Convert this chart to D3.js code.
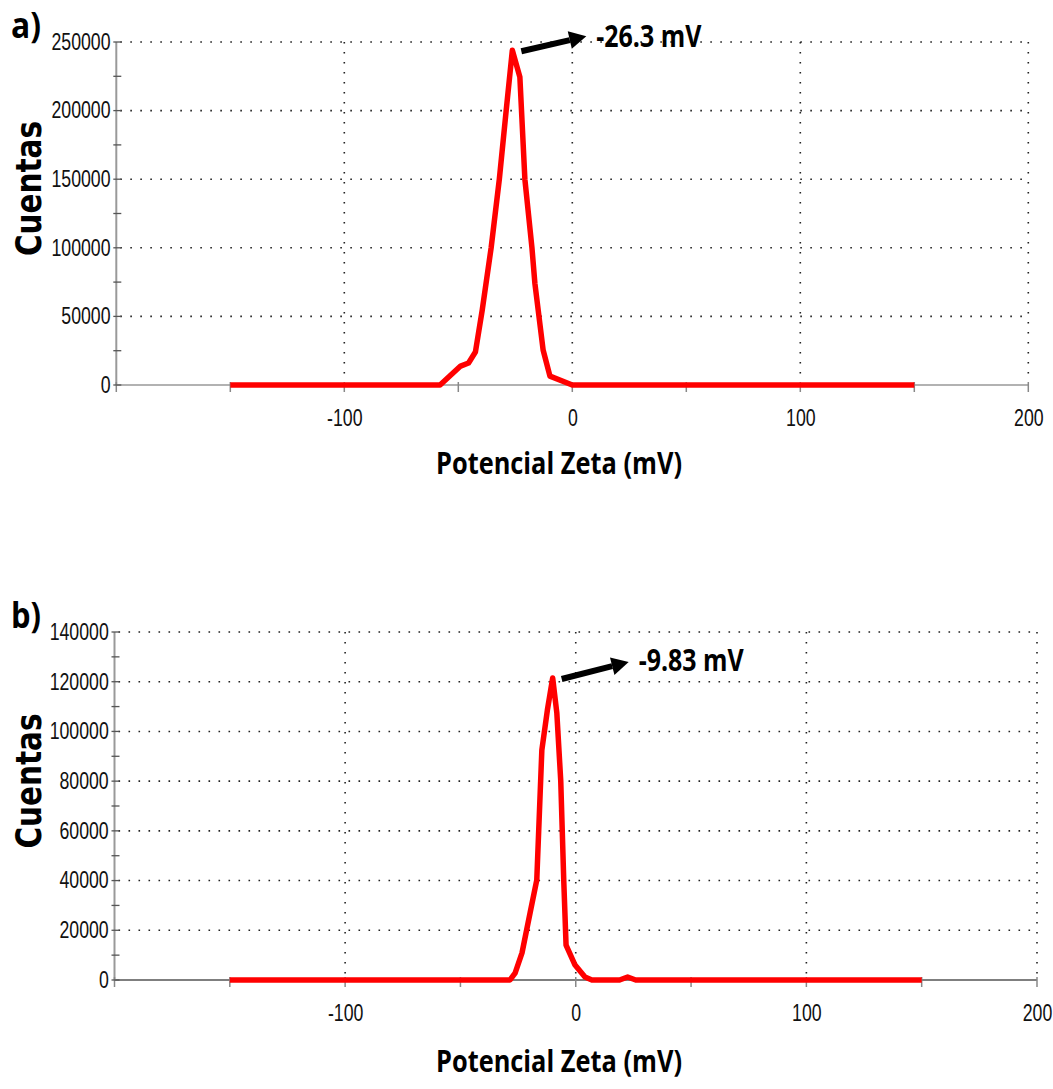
<!DOCTYPE html>
<html>
<head>
<meta charset="utf-8">
<script src="https://cdn.jsdelivr.net/npm/d3@7"></script>
<style>
  body { margin: 0; background: #fff; }
  svg { display: block; }
</style>
</head>
<body>
<div id="chart"></div>
<script>
// zeta potential distributions
const zetaA   = [-150, -58, -49, -45.5, -42.5, -39.5, -35.6, -32, -29, -26.3, -23, -20.8, -17.7, -16.4, -12.8, -9.8, 0, 150]
const countsA = [0, 0, 13800, 16000, 24000, 54700, 100000, 150000, 200000, 244000, 224500, 150000, 100000, 74000, 25500, 6500, 0, 0]

const zetaB   = [-150, -28.5, -26.3, -23.3, -19.8, -16.9, -14.7, -12.3, -10, -8.2, -6.5, -5.2, -4.2, -0.3, 4, 7, 19, 22.5, 26, 150]
const countsB = [0, 0, 2800, 10900, 27000, 40200, 92500, 108600, 121500, 107400, 80000, 40000, 14000, 6000, 1200, 0, 0, 1200, 0, 0]

const xMajor = [-200, -100, 0, 100, 200]
const xMinor = [-150, -50, 50, 150]
const yMajorA = [0, 50000, 100000, 150000, 200000, 250000]
const yMinorA = [25000, 75000, 125000, 175000, 225000]
const yMajorB = [0, 20000, 40000, 60000, 80000, 100000, 120000, 140000]
const yMinorB = [10000, 30000, 50000, 70000, 90000, 110000, 130000]

const peakA = {x: -26.3, y: 244000, label: "-26.3 mV"}
const peakB = {x: -10, y: 121500, label: "-9.83 mV"}

const svg = d3.select("#chart")
  .append("svg")
    .attr("width", 1053)
    .attr("height", 1089)

const tickFont = "'Liberation Sans', Arial, sans-serif"
const boldFont = "'Open Sans', 'Noto Sans', sans-serif"

// one panel of the figure
function drawPanel(p) {
  const x = d3.scaleLinear().domain([-200, 200]).range([p.left, p.right])
  const y = d3.scaleLinear().domain([0, p.yMax]).range([p.bottom, p.top])
  const g = svg.append("g")

  // dotted grid
  g.selectAll(".hgrid")
    .data(p.yMajor.filter(d => d > 0))
    .enter().append("line")
      .attr("x1", p.left + 4).attr("x2", p.right)
      .attr("y1", d => y(d)).attr("y2", d => y(d))
      .attr("stroke", "#222").attr("stroke-width", 1.6)
      .attr("stroke-dasharray", "1.6,8.4")
  g.selectAll(".vgrid")
    .data(xMajor.filter(d => d > -200))
    .enter().append("line")
      .attr("x1", d => x(d)).attr("x2", d => x(d))
      .attr("y1", y(p.yMax)).attr("y2", y(0) - 3)
      .attr("stroke", "#222").attr("stroke-width", 1.6)
      .attr("stroke-dasharray", "1.6,8.4")

  // axis lines
  g.append("line")
    .attr("x1", x(-200)).attr("x2", x(200))
    .attr("y1", y(0)).attr("y2", y(0))
    .attr("stroke", p.xAxisColor).attr("stroke-width", 1.6)
  g.append("line")
    .attr("x1", x(-200)).attr("x2", x(-200))
    .attr("y1", y(0)).attr("y2", y(p.yMax))
    .attr("stroke", "#999").attr("stroke-width", 2)

  // tick marks
  g.selectAll(".xtick")
    .data(xMajor.concat(xMinor))
    .enter().append("line")
      .attr("x1", d => x(d)).attr("x2", d => x(d))
      .attr("y1", y(0) - 3).attr("y2", y(0) + 7)
      .attr("stroke", "#888").attr("stroke-width", 1.5)
  g.selectAll(".ytick")
    .data(p.yMajor.concat(p.yMinor))
    .enter().append("line")
      .attr("x1", x(-200) - 3).attr("x2", x(-200) + 5)
      .attr("y1", d => y(d)).attr("y2", d => y(d))
      .attr("stroke", "#555").attr("stroke-width", 1.3)

  // tick labels through d3 axes (plain hyphen minus like the original)
  const xAxis = g.append("g")
    .attr("transform", `translate(0,${y(0)})`)
    .call(d3.axisBottom(x).tickValues(xMajor.filter(d => d > -200)).tickFormat(d => String(d)).tickSize(0).tickPadding(25))
  const yAxis = g.append("g")
    .attr("transform", `translate(${x(-200)},0)`)
    .call(d3.axisLeft(y).tickValues(p.yMajor).tickFormat(d => String(d)).tickSize(0).tickPadding(7.5))
  ;[xAxis, yAxis].forEach(a => {
    a.select(".domain").remove()
    a.selectAll("text")
      .style("font-family", tickFont)
      .style("font-size", "23px")
      .attr("fill", "#111")
      .attr("transform", "scale(0.77,1)")
  })

  // the curve
  const pts = p.zeta.map((d, i) => [d, p.counts[i]])
  g.append("path")
    .datum(pts)
    .attr("fill", "none")
    .attr("stroke", "#ff0000")
    .attr("stroke-width", 5.5)
    .attr("stroke-linejoin", "round")
    .attr("stroke-linecap", "butt")
    .attr("d", d3.line().x(d => x(d[0])).y(d => y(d[1])))

  // peak arrow + label
  const x0 = x(p.peak.x) + 9, y0 = y(p.peak.y) + 1
  const x1 = x0 + p.arrow[0], y1 = y0 + p.arrow[1]
  const ang = Math.atan2(y1 - y0, x1 - x0)
  const hl = 17, hw = 9
  const bx = x1 - hl * Math.cos(ang), by = y1 - hl * Math.sin(ang)
  g.append("line")
    .attr("x1", x0).attr("y1", y0).attr("x2", bx).attr("y2", by)
    .attr("stroke", "#000").attr("stroke-width", 6)
  g.append("path")
    .attr("d", `M${x1},${y1} L${bx + hw * Math.sin(ang)},${by - hw * Math.cos(ang)} L${bx - hw * Math.sin(ang)},${by + hw * Math.cos(ang)} Z`)
    .attr("fill", "#000")
  g.append("text")
    .attr("x", x1 + 10)
    .attr("y", y1 + p.labelDy)
    .attr("textLength", 105)
    .attr("lengthAdjust", "spacingAndGlyphs")
    .style("font-family", boldFont)
    .style("font-weight", "bold")
    .style("font-size", "30px")
    .text(p.peak.label)

  // axis titles
  g.append("text")
    .attr("x", 559)
    .attr("y", p.titleY)
    .attr("text-anchor", "middle")
    .attr("textLength", 246)
    .attr("lengthAdjust", "spacingAndGlyphs")
    .style("font-family", boldFont)
    .style("font-weight", "bold")
    .style("font-size", "31px")
    .text("Potencial Zeta (mV)")
  g.append("text")
    .attr("transform", `translate(41,${(p.top + p.bottom) / 2 - 25}) rotate(-90)`)
    .attr("text-anchor", "middle")
    .attr("textLength", 135)
    .attr("lengthAdjust", "spacingAndGlyphs")
    .style("font-family", "'DejaVu Sans', Verdana, sans-serif")
    .style("font-weight", "bold")
    .style("font-size", "35px")
    .text("Cuentas")
  g.append("text")
    .attr("x", 11)
    .attr("y", p.top - 4)
    .attr("textLength", 30)
    .attr("lengthAdjust", "spacingAndGlyphs")
    .style("font-family", boldFont)
    .style("font-weight", "bold")
    .style("font-size", "35px")
    .text(p.tag)
}

drawPanel({
  zeta: zetaA, counts: countsA, yMax: 250000,
  yMajor: yMajorA, yMinor: yMinorA,
  left: 116.3, right: 1028.3, top: 42, bottom: 385,
  xAxisColor: "#999", peak: peakA, arrow: [65, -15], labelDy: 11,
  titleY: 474, tag: "a)"
})

drawPanel({
  zeta: zetaB, counts: countsB, yMax: 140000,
  yMajor: yMajorB, yMinor: yMinorB,
  left: 114.5, right: 1037, top: 632, bottom: 980,
  xAxisColor: "#555", peak: peakB, arrow: [67, -17], labelDy: 9,
  titleY: 1072, tag: "b)"
})
</script>
</body>
</html>
